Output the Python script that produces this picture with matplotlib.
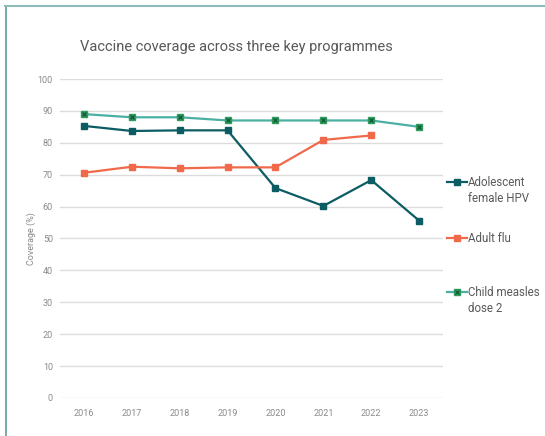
import matplotlib.pyplot as plt
from matplotlib.lines import Line2D

# data
years = ['2016', '2017', '2018', '2019', '2020', '2021', '2022', '2023']
hpv = [85.3, 83.7, 83.9, 83.9, 65.8, 60.2, 68.3, 55.6]
flu = [70.6, 72.5, 72.0, 72.3, 72.3, 80.9, 82.3]
measles = [89, 88, 88, 87, 87, 87, 87, 85]
names = ['Adolescent\nfemale HPV', 'Adult flu', 'Child measles\ndose 2']

plt.rcParams['font.family'] = ['Roboto', 'DejaVu Sans']

W, H = 545, 436
fig = plt.figure(figsize=(W / 100, H / 100), dpi=100)
ax = fig.add_axes([0.110, 0.0872, 0.703, 0.7316])

x = list(range(len(years)))
c_hpv = '#0b5c63'
c_flu = '#f0694a'
c_mea = '#4bb0a3'

ax.plot(x, hpv, color=c_hpv, lw=1.6, marker='s', ms=4.5)
ax.plot(x[:len(flu)], flu, color=c_flu, lw=1.6, marker='s', ms=4.5)
ax.plot(x, measles, color=c_mea, lw=1.6, marker='s', ms=4.5, mfc='#2e9a5e', mec='#2e9a5e')
ax.plot(x, measles, ls='none', marker='x', ms=3.5, mew=1.0, color='#155f3a')

ax.set_xlim(-0.5, 7.5)
ax.set_ylim(0, 100)
ax.set_yticks(range(0, 101, 10))
ax.set_xticks(x)
ax.set_xticklabels(years)
ax.tick_params(length=0, labelsize=6.5, colors='#8a8a8a')
ax.tick_params(axis='y', pad=5)
ax.tick_params(axis='x', pad=8)
ax.grid(axis='y', color='#dcdcdc', lw=1)
ax.set_axisbelow(True)
for s in ax.spines.values():
    s.set_visible(False)

ax.set_ylabel('Coverage (%)', fontsize=6.5, color='#8a8a8a', labelpad=1.5)

fig.text(236 / W, 1 - 47 / H, 'Vaccine coverage across three key programmes',
         ha='center', va='center', fontsize=10.5, color='#595959')

# legend drawn by hand so the marker sits on the first text line
leg_y = [182, 238, 292]
styles = [
    dict(color=c_hpv, marker='s', ms=4.5),
    dict(color=c_flu, marker='s', ms=4.5),
    dict(color=c_mea, marker='s', ms=4.5, mfc='#2e9a5e', mec='#2e9a5e'),
]
for yy, name, st in zip(leg_y, names, styles):
    fy = 1 - yy / H
    fig.add_artist(Line2D([447 / W, 457 / W, 467 / W], [fy, fy, fy], lw=1.6,
                          markevery=[1], **st))
    if st['color'] == c_mea:
        fig.add_artist(Line2D([457 / W], [fy], ls='none', marker='x', ms=3.5, mew=1.0,
                              color='#155f3a'))
    fig.text(468 / W, fy + 6.5 / H, name, ha='left', va='top', fontsize=8.3,
             color='#595959', linespacing=1.35)

# outer frame (left and top edges)
fig.add_artist(Line2D([5.5 / W, 5.5 / W], [0, 1 - 6.5 / H], color='#5e9c9a', lw=1.2))
fig.add_artist(Line2D([5 / W, 1], [1 - 6.5 / H, 1 - 6.5 / H], color='#8fbcba', lw=1.5))

fig.savefig('out.png', dpi=100)
